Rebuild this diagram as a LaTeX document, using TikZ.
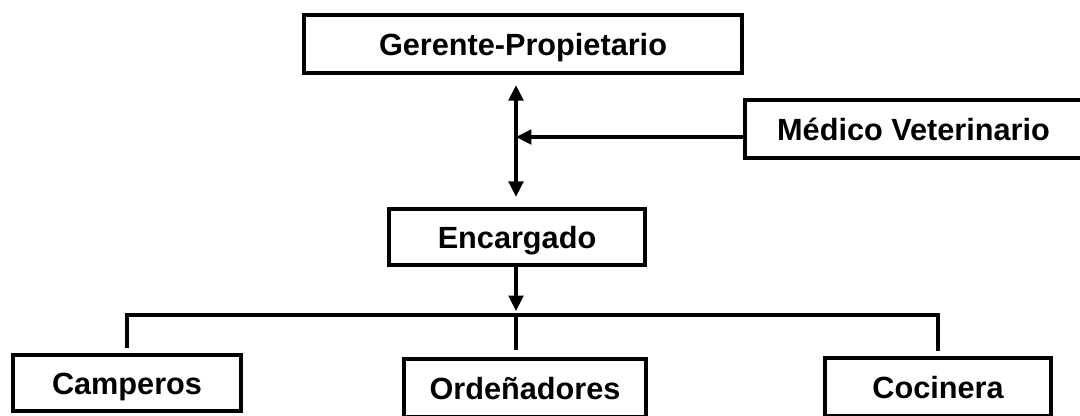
\documentclass[tikz,border=0pt]{standalone}
\usepackage{fontspec}
\setmainfont{Liberation Sans}
\usetikzlibrary{arrows.meta}

\tikzset{
  cargo/.style={draw, line width=3.3pt, inner sep=0pt,
    font=\bfseries\fontsize{23}{27}\selectfont, text height=16.5pt, text depth=0pt},
  linea/.style={line width=2.3pt},
  punta/.tip={Triangle[length=11.5pt,width=11pt]},
  flecha/.style={line width=2.3pt, -punta},
}

\begin{document}
\begin{tikzpicture}[x=0.75pt,y=0.75pt,yscale=-1,xscale=1]
\useasboundingbox (0,0) rectangle (1080,415);
\clip (0,0) rectangle (1080,415);

%Shape: Rectangle [gerente]
\node [cargo, minimum width=328.5pt, minimum height=43.5pt] (gerente) at (523,44) {Gerente-Propietario};
%Shape: Rectangle [medico]
\node [cargo, minimum width=252.75pt, minimum height=43.5pt] (medico) at (913.5,129) {Médico Veterinario};
%Shape: Rectangle [encargado]
\node [cargo, minimum width=192pt, minimum height=42pt] (encargado) at (517,237) {Encargado};
%Shape: Rectangle [camperos]
\node [cargo, minimum width=171pt, minimum height=42pt] (camperos) at (127,383) {Camperos};
%Shape: Rectangle [ordenadores]
\node [cargo, minimum width=181.5pt, minimum height=43.5pt] (ordenadores) at (525,388) {Ordeñadores};
%Shape: Rectangle [cocinera]
\node [cargo, minimum width=169.5pt, minimum height=43.5pt] (cocinera) at (938,387) {Cocinera};

\coordinate (vet) at (516,137);
\coordinate (bus) at (516,315);

%Straight Lines [gerente - encargado]
\draw [flecha, punta-punta, shorten <=7.5pt, shorten >=7.5pt] (vet |- gerente.south) -- (vet |- encargado.north);
%Straight Lines [medico]
\draw [flecha] (medico.west |- vet) -- (vet);
%Straight Lines [encargado - bus]
\draw [flecha, shorten >=3pt] (bus |- encargado.south) -- (bus);
%Straight Lines [bus]
\draw [linea, shorten <=3.75pt, shorten >=3.75pt] (camperos.north) -- (camperos.north |- bus) -- (cocinera.north |- bus) -- (cocinera.north);
\draw [linea, shorten >=5pt] (bus) -- (bus |- ordenadores.north);

\end{tikzpicture}
\end{document}
